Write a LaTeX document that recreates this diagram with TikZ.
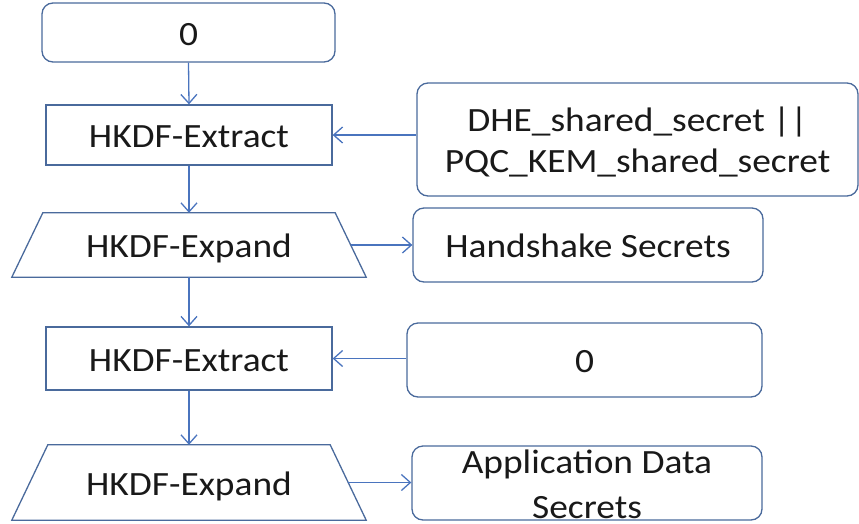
\documentclass[tikz,border=0pt]{standalone}
\usepackage{fontspec}
\setmainfont[FakeStretch=1.1]{Carlito}
\usetikzlibrary{arrows.meta}
\definecolor{edge}{HTML}{4A74BE}
\definecolor{frame}{HTML}{4A6A9C}
\begin{document}
\begin{tikzpicture}[x=1pt,y=-1pt,
  every node/.style={font=\fontsize{34}{42}\selectfont, text=black!90},
  outline/.style={draw=frame, line width=1.3pt},
  roundbox/.style={outline, rounded corners=11pt, fill=white, inner sep=0pt},
  rectbox/.style={outline, fill=white, inner sep=0pt, minimum width=286pt},
  expbox/.style={inner sep=0pt, minimum width=354pt},
  oneline/.style={text height=28pt, text depth=3pt},
  flow/.style={draw=edge, line width=1.3pt, -{Straight Barb[length=9pt,width=16pt]}}
]
\useasboundingbox (0,0) rectangle (859,523);

% left column: extract / expand chain
\node[roundbox, oneline, minimum width=293pt, minimum height=59pt] (zero1) at (188.5,32.5) {0};
\node[rectbox, oneline, minimum height=60pt] (ext1) at (189,135) {HKDF-Extract};
\node[expbox, oneline, minimum height=64pt] (exp1) at (189,245) {HKDF-Expand};
\node[rectbox, oneline, minimum height=63pt] (ext2) at (189,358.5) {HKDF-Extract};
\node[expbox, oneline, minimum height=75pt] (exp2) at (189,482.5) {HKDF-Expand};

% trapezoid outlines of the expand steps
\draw[outline] ([xshift=31pt]exp1.north west) -- ([xshift=-31pt]exp1.north east)
  -- (exp1.south east) -- (exp1.south west) -- cycle;
\draw[outline] ([xshift=36pt]exp2.north west) -- ([xshift=-36pt]exp2.north east)
  -- (exp2.south east) -- (exp2.south west) -- cycle;
\coordinate (exp1e) at ([xshift=-15.5pt]exp1.east);
\coordinate (exp2e) at ([xshift=-18pt]exp2.east);

% right column: inputs and outputs
\node[roundbox, minimum width=441pt, minimum height=113pt] (dhe) at (637.5,139.5) {};
\node[align=center, font=\fontsize{34}{41}\selectfont, inner sep=0pt] (dhetext) at (637.5,142)
  {DHE\_shared\_secret ||\\PQC\_KEM\_shared\_secret};
\node[roundbox, oneline, minimum width=350pt, minimum height=74pt] (hs) at (588,245) {Handshake Secrets};
\node[roundbox, oneline, minimum width=355pt, minimum height=74pt] (zero2) at (584.5,360) {0};
\node[roundbox, minimum width=350pt, minimum height=74pt] (app) at (587,483) {};
\node[align=center, font=\fontsize{34}{45}\selectfont, inner sep=0pt] (apptext) at (587,484) {Application Data\\Secrets};

% connectors
\draw[flow] (zero1.south) -- (ext1.north);
\draw[flow] (dhe.west |- ext1.east) -- (ext1.east);
\draw[flow] (ext1.south) -- (exp1.north);
\draw[flow] (exp1e) -- (hs.west |- exp1e);
\draw[flow] (exp1.south) -- (ext2.north);
\draw[flow] (zero2.west |- ext2.east) -- (ext2.east);
\draw[flow] (ext2.south) -- (exp2.north);
\draw[flow] (exp2e) -- (app.west |- exp2e);
\end{tikzpicture}
\end{document}
